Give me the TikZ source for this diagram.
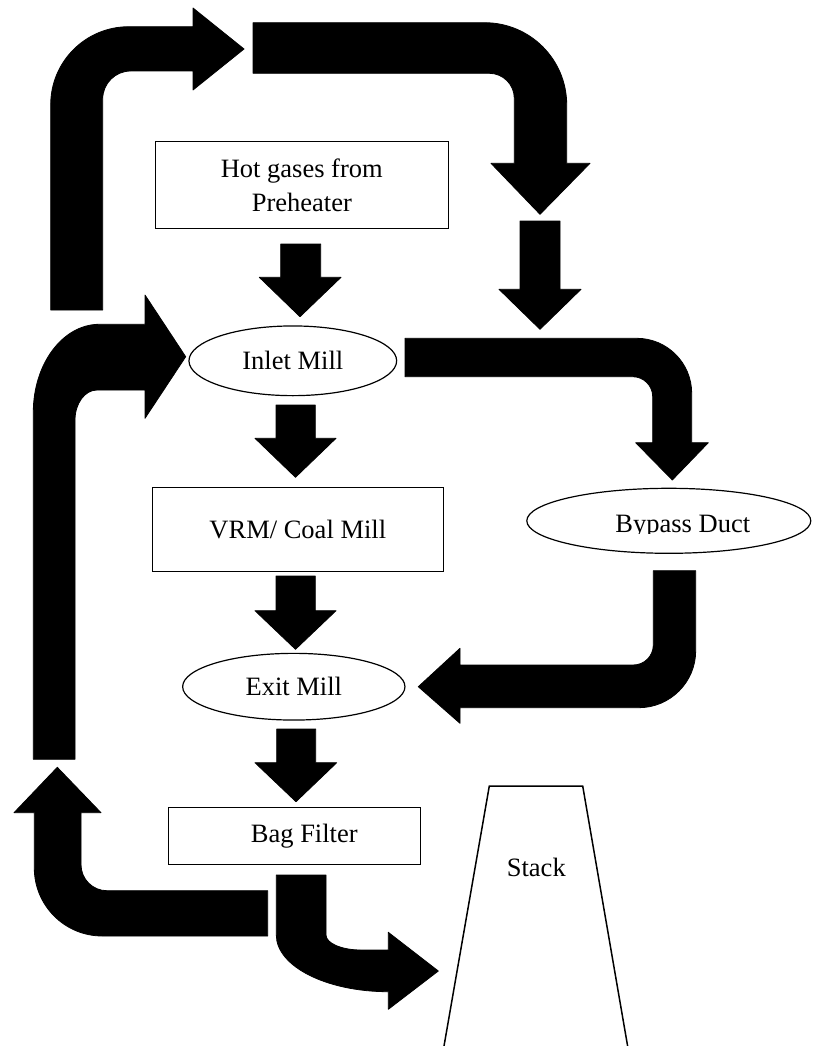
\documentclass[tikz,border=0pt]{standalone}
\usepackage{fontspec}
\setmainfont{Liberation Serif}
\usetikzlibrary{shapes.geometric}
\newcommand\diagfont{\fontsize{26.5}{34.4}\selectfont}
\begin{document}
\begin{tikzpicture}[x=1pt,y=-1pt,
  blockarrow/.style={fill=black,draw=black,line width=0.8pt,line join=round},
  box/.style={draw=black,line width=1pt,rectangle,inner sep=0pt,font=\diagfont,align=center},
  oval/.style={draw=black,line width=1.2pt,ellipse,inner sep=0pt,font=\diagfont},
  lbl/.style={inner sep=0pt,font=\diagfont}]
\useasboundingbox (0,0) rectangle (812,1046);

% process blocks
\node[box,line width=1.5pt,minimum width=293pt,minimum height=86.6pt] (hot) at (301.8,185) {Hot gases from\\Preheater};
\node[oval,minimum width=207.7pt,minimum height=69.7pt] (inlet) at (292.8,360.8) {Inlet Mill};
\node[box,minimum width=291pt,minimum height=83.7pt] (vrm) at (297.8,529.2) {VRM/ Coal Mill};
\node[oval,minimum width=222.3pt,minimum height=66.7pt] (exit) at (293.8,686.7) {Exit Mill};
\node[box,minimum width=252.3pt,minimum height=56.6pt] (bag) at (294.8,836) {\hspace*{19pt}Bag Filter};
\node[oval,minimum width=284pt,minimum height=65pt] (bypass) at (668.8,520.8) {};
\begin{scope}
  \clip (560,495) rectangle (800,533.6);
  \node[lbl,anchor=base] (bypasslbl) at (682.8,532.3) {Bypass Duct};
\end{scope}

% stack
\draw[line width=1.5pt,line join=miter] (443.3,1050) -- (489.3,786) -- (582.7,786) -- (628.3,1050);
\node[lbl,anchor=base] (stack) at (536.3,876.7) {Stack};

% straight down arrows
\fill[blockarrow] (280.7,244) -- (320.7,244) -- (320.7,277.3) -- (341,277.3) -- (300,316.7) -- (259.3,277.3) -- (280.7,277.3) -- cycle;
\fill[blockarrow] (276,405) -- (315.3,405) -- (315.3,438.3) -- (336,438.3) -- (295.5,477.3) -- (255,438.3) -- (276,438.3) -- cycle;
\fill[blockarrow] (276,576) -- (315.3,576) -- (315.3,610.7) -- (336,610.7) -- (295.5,649.3) -- (255,610.7) -- (276,610.7) -- cycle;
\fill[blockarrow] (276.7,729) -- (315.7,729) -- (315.7,762.7) -- (336.7,762.7) -- (296,801.7) -- (255,762.7) -- (276.7,762.7) -- cycle;
\fill[blockarrow] (520,221) -- (560,221) -- (560,289.3) -- (581,289.3) -- (540,329.3) -- (499,289.3) -- (520,289.3) -- cycle;

% bent arrows
% up, then right across the top
\fill[blockarrow] (50.7,310) -- (50.7,104.7) arc[start angle=180,end angle=270,radius=78]
  -- (193,26.7) -- (193,8) -- (244,49) -- (193,90) -- (193,71) -- (130.7,71)
  arc[start angle=270,end angle=180,radius=28] -- (102.7,310) -- cycle;
% right along the top, then down
\fill[blockarrow] (253,22.7) -- (484.7,22.7) arc[start angle=270,end angle=360,radius=82]
  -- (566.7,163.3) -- (590,163.3) -- (540,214.3) -- (491,163.3) -- (514.3,163.3) -- (514.3,98.3)
  arc[start angle=0,end angle=-90,radius=25] -- (253,73.3) -- cycle;
% recirculation up the left side into the inlet
\fill[blockarrow] (33.3,759.3) -- (33.3,412.3) arc[start angle=180,end angle=270,x radius=66,y radius=88]
  -- (145,324.3) -- (145,295) -- (185.7,356.7) -- (145,418.3) -- (145,390) -- (97,390)
  arc[start angle=270,end angle=180,x radius=22,y radius=30] -- (75,759.3) -- cycle;
% inlet to bypass duct
\fill[blockarrow] (405,338.3) -- (636.7,338.3) arc[start angle=270,end angle=360,radius=55]
  -- (691.7,442.7) -- (708.3,442.7) -- (672.3,480) -- (635.7,442.7) -- (652.7,442.7) -- (652.7,396.7)
  arc[start angle=0,end angle=-90,radius=20] -- (405,376.7) -- cycle;
% bypass duct to exit
\fill[blockarrow] (653.3,570.7) -- (695.7,570.7) -- (695.7,650.7) arc[start angle=0,end angle=90,radius=57]
  -- (460,707.7) -- (460,723.3) -- (418.3,686.7) -- (460,648.3) -- (460,665) -- (633.3,665)
  arc[start angle=90,end angle=0,radius=20] -- cycle;
% bag filter back to the left
\fill[blockarrow] (267.7,890.7) -- (267.7,936) -- (102.3,936) arc[start angle=90,end angle=180,radius=68]
  -- (34.3,812.7) -- (14,812.7) -- (57.3,767.3) -- (101,812.7) -- (81,812.7) -- (81,864.7)
  arc[start angle=180,end angle=90,radius=26] -- cycle;
% bag filter to stack
\fill[blockarrow] (276.3,875) -- (326,875) -- (326,935) arc[start angle=180,end angle=90,x radius=35,y radius=15]
  -- (388.3,950) -- (388.3,932.3) -- (438.3,971) -- (388.3,1009.3) -- (388.3,991.7)
  arc[start angle=90,end angle=180,x radius=112,y radius=56.7] -- cycle;
\end{tikzpicture}
\end{document}
